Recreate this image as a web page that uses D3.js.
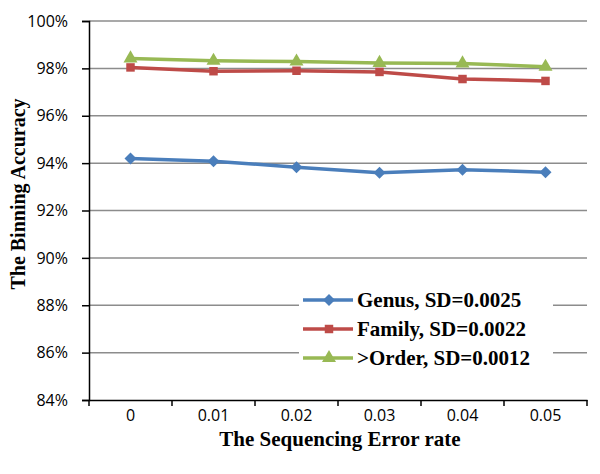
<!DOCTYPE html>
<html>
<head>
<meta charset="utf-8">
<script src="https://cdn.jsdelivr.net/npm/d3@7"></script>
<style>
  body { margin: 0; background: #fff; }
</style>
</head>
<body>
<div id="chart"></div>
<script>
'use strict';

const errorRates = ["0", "0.01", "0.02", "0.03", "0.04", "0.05"];
const genus = [94.20, 94.08, 93.83, 93.59, 93.72, 93.62];
const family = [98.04, 97.88, 97.90, 97.85, 97.55, 97.47];
const order = [98.42, 98.32, 98.29, 98.23, 98.21, 98.07];
const seriesNames = ["Genus, SD=0.0025", "Family, SD=0.0022", ">Order, SD=0.0012"];
const yTicks = [84, 86, 88, 90, 92, 94, 96, 98, 100];

const width = 600, height = 474;
const margin = {top: 21, right: 13, bottom: 74, left: 89};

let svg = d3.select("#chart").append("svg")
    .attr("width", width)
    .attr("height", height);

let x = d3.scaleBand()
    .domain(errorRates)
    .range([margin.left, width - margin.right]);

let y = d3.scaleLinear()
    .domain([84, 100])
    .range([height - margin.bottom, margin.top]);

// grid lines
svg.append("g")
    .selectAll("line")
    .data(yTicks.slice(1))
    .enter().append("line")
    .attr("x1", margin.left)
    .attr("x2", width - margin.right)
    .attr("y1", d => y(d))
    .attr("y2", d => y(d))
    .attr("stroke", "#8c8c8c")
    .attr("stroke-width", 1.5);

// y axis
let yAxis = svg.append("g")
    .attr("transform", "translate(" + margin.left + ",0)")
    .call(d3.axisLeft(y).tickValues(yTicks).tickFormat(d => d + "%").tickSize(7).tickPadding(14));
yAxis.select(".domain").attr("stroke", "#000").attr("stroke-width", 1.5);
yAxis.selectAll(".tick line").attr("stroke", "#000").attr("stroke-width", 1.5);
yAxis.selectAll("text")
    .style("font-family", "'Open Sans', sans-serif")
    .style("font-size", "16px")
    .attr("fill", "#000");

// x axis, ticks between categories
let xAxis = svg.append("g")
    .attr("transform", "translate(0," + y(84) + ")")
    .call(d3.axisBottom(x).tickSize(0).tickPadding(10));
xAxis.select(".domain").attr("stroke", "#000").attr("stroke-width", 1.5);
xAxis.selectAll("text")
    .style("font-family", "'Open Sans', sans-serif")
    .style("font-size", "16px")
    .attr("fill", "#000");
xAxis.selectAll(".sep")
    .data(errorRates.concat(["end"]))
    .enter().append("line")
    .attr("class", "sep")
    .attr("x1", (d, i) => margin.left + i * x.step())
    .attr("x2", (d, i) => margin.left + i * x.step())
    .attr("y1", 0)
    .attr("y2", 6)
    .attr("stroke", "#000")
    .attr("stroke-width", 1.5);

// axis titles
svg.append("text")
    .attr("transform", "translate(25,194) rotate(-90)")
    .attr("text-anchor", "middle")
    .style("font-family", "'Liberation Serif', serif")
    .style("font-weight", "bold")
    .style("font-size", "20px")
    .text("The Binning Accuracy");

svg.append("text")
    .attr("x", 340)
    .attr("y", 446)
    .attr("text-anchor", "middle")
    .style("font-family", "'Liberation Serif', serif")
    .style("font-weight", "bold")
    .style("font-size", "21px")
    .text("The Sequencing Error rate");

let colors = ["#4a7ebb", "#be4b48", "#98b954"];
let symbols = [d3.symbolSquare, d3.symbolSquare, d3.symbolTriangle];
let symSizes = [72, 72, 85];
let rotations = [45, 0, 0];
let allSeries = [genus, family, order];

let line = d3.line()
    .x((d, i) => x(errorRates[i]) + x.bandwidth() / 2)
    .y(d => y(d));

allSeries.forEach(function(values, k) {
    svg.append("path")
        .datum(values)
        .attr("fill", "none")
        .attr("stroke", colors[k])
        .attr("stroke-width", 3.5)
        .attr("stroke-linejoin", "round")
        .attr("d", line);

    svg.append("g")
        .selectAll("path")
        .data(values)
        .enter().append("path")
        .attr("transform", (d, i) => "translate(" + (x(errorRates[i]) + x.bandwidth() / 2) + "," + y(d) + ") rotate(" + rotations[k] + ")")
        .attr("d", d3.symbol().type(symbols[k]).size(symSizes[k]))
        .attr("fill", colors[k]);
});

// legend
let legend = svg.append("g");
legend.append("rect")
    .attr("x", 299)
    .attr("y", 284)
    .attr("width", 254)
    .attr("height", 90)
    .attr("fill", "#fff");

seriesNames.forEach(function(name, k) {
    let ly = 300 + k * 29;
    legend.append("line")
        .attr("x1", 303).attr("x2", 353)
        .attr("y1", ly).attr("y2", ly)
        .attr("stroke", colors[k])
        .attr("stroke-width", 3.5);
    legend.append("path")
        .attr("transform", "translate(329," + ly + ") rotate(" + rotations[k] + ")")
        .attr("d", d3.symbol().type(symbols[k]).size(symSizes[k]))
        .attr("fill", colors[k]);
    legend.append("text")
        .attr("x", 357)
        .attr("y", ly + 7)
        .style("font-family", "'Liberation Serif', serif")
        .style("font-weight", "bold")
        .style("font-size", "21px")
        .text(name);
});
</script>
</body>
</html>
